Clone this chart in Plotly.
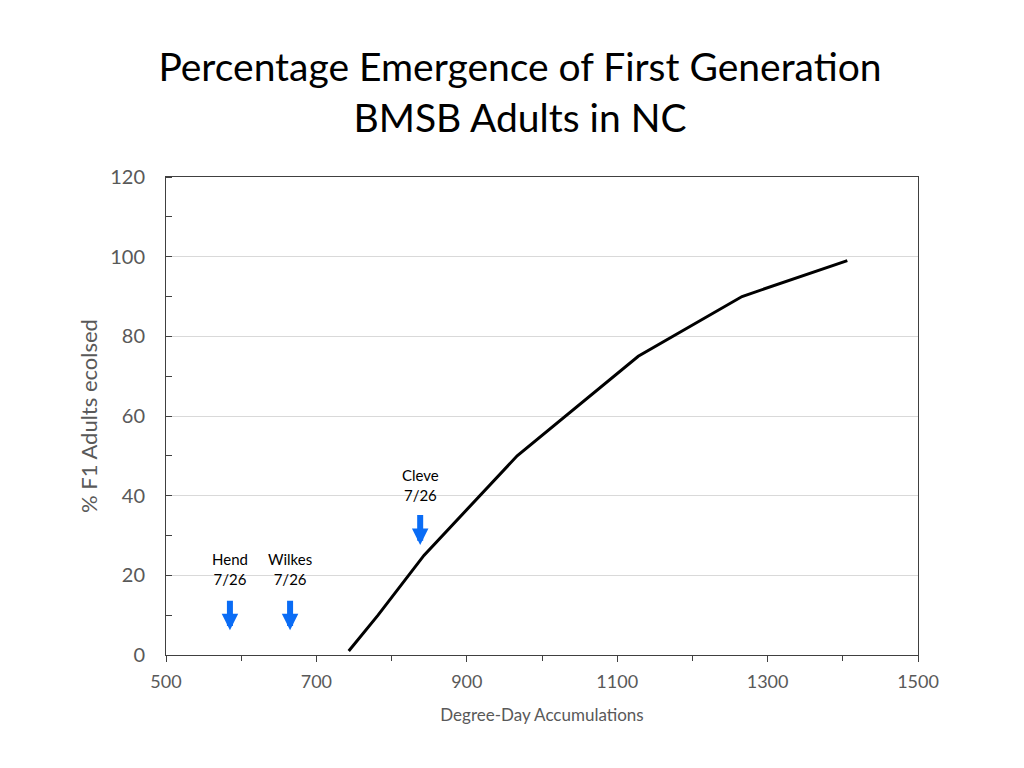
import plotly.graph_objects as go

# Data
degree_days = [743, 782, 843, 967, 1128, 1266, 1406]
pct_emerged = [1, 10, 25, 50, 75, 90, 99]

site_names = ["Hend", "Wilkes", "Cleve"]
site_dates = ["7/26", "7/26", "7/26"]
site_dd = [585, 665, 838]
arrow_tail = [14, 14, 35.5]
arrow_head = [6.2, 6.2, 27.6]
label_y = [21.5, 21.5, 42.8]

x_ticks = [500, 700, 900, 1100, 1300, 1500]
y_ticks = [0, 20, 40, 60, 80, 100, 120]

FONT = "Lato"
GRAY = "#595959"
BLUE = "#0A6CF5"

fig = go.Figure()
fig.add_trace(go.Scatter(
    x=degree_days, y=pct_emerged, mode="lines",
    line=dict(color="black", width=3), showlegend=False, hoverinfo="skip"))

for name, date, xd, yt, yh, yl in zip(site_names, site_dates, site_dd, arrow_tail, arrow_head, label_y):
    fig.add_annotation(x=xd, y=yh, ax=xd, ay=yt, xref="x", yref="y", axref="x", ayref="y",
                       showarrow=True, arrowhead=2, arrowwidth=6, arrowsize=0.55,
                       arrowcolor=BLUE, text="")
    fig.add_annotation(x=xd, y=yl, xref="x", yref="y", showarrow=False,
                       text=f"{name}<br>{date}", font=dict(family=FONT, size=15, color="black"),
                       align="center")

fig.update_layout(
    width=1024, height=768,
    paper_bgcolor="white", plot_bgcolor="white",
    margin=dict(l=158, r=114, t=169, b=121),
    title=dict(text="Percentage Emergence of First Generation<br>BMSB Adults in NC",
               x=0.5, xanchor="center", y=0.905, yanchor="top",
               font=dict(family=FONT, size=39, color="black")),
    font=dict(family=FONT, color=GRAY),
)
fig.update_xaxes(
    range=[500, 1500], tickvals=x_ticks, showgrid=False,
    showline=True, linecolor="#404040", linewidth=1, mirror=True,
    ticks="outside", ticklen=6, tickcolor="#404040", ticklabelstandoff=4,
    minor=dict(dtick=100, tick0=500, ticks="outside", ticklen=5, tickcolor="#404040"),
    tickfont=dict(size=18, color=GRAY),
    title=dict(text="Degree-Day Accumulations", font=dict(size=17, color=GRAY), standoff=18),
    zeroline=False,
)
fig.update_yaxes(
    range=[0, 120], tickvals=y_ticks, showgrid=True, gridcolor="#D9D9D9", gridwidth=1,
    showline=True, linecolor="#404040", linewidth=1, mirror=True,
    ticks="", ticklabelstandoff=16,
    minor=dict(dtick=10, tick0=0, ticks="inside", ticklen=6, tickcolor="#404040", showgrid=False),
    tickfont=dict(size=20, color=GRAY),
    title=dict(text="% F1 Adults ecolsed", font=dict(size=22, color=GRAY), standoff=6),
    zeroline=False,
)

fig.write_html("out.html")
